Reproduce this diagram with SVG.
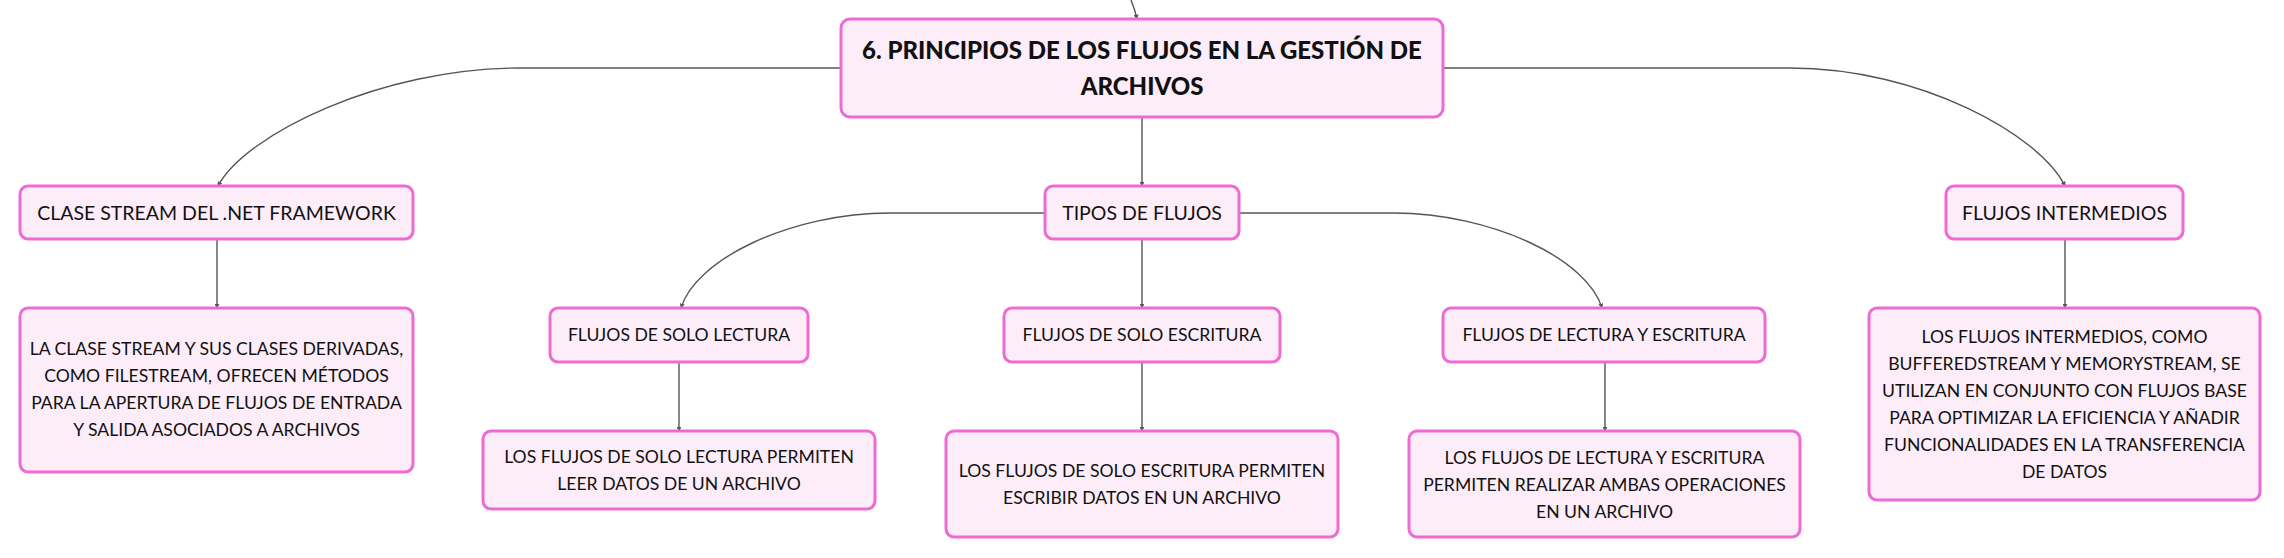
<svg xmlns="http://www.w3.org/2000/svg" width="2284" height="558" viewBox="0 0 2284 558">
<defs>
<style>
.box{fill:#fcedf9;stroke:#ef6bd4;stroke-width:3}
.t{font-family:Lato,"Open Sans","Liberation Sans",sans-serif;fill:#111;text-anchor:middle}
.h{font-size:19.5px}
.b{font-size:17.6px}
.r{font-size:24px;font-weight:900}
.c{fill:none;stroke:#555;stroke-width:1.4}
</style>
<marker id="ar" viewBox="0 0 8 8" refX="7" refY="4" markerWidth="5" markerHeight="5" markerUnits="userSpaceOnUse" orient="auto">
<path d="M0,0 L8,4 L0,8 z" fill="#555"/>
</marker>
</defs>
<rect width="2284" height="558" fill="#fff"/>
<g id="connectors" class="c" marker-end="url(#ar)">
<path d="M1131,0 Q1135,10 1137,19"/>
<path d="M841,68 L520,68 C380,68 245,135 218,186"/>
<path d="M1142,117 V186"/>
<path d="M1443,68 L1790,68 C1920,68 2040,135 2065,186"/>
<path d="M217,239 V308"/>
<path d="M1045,213 L890,213 C790,213 695,260 681,308"/>
<path d="M1142,239 V308"/>
<path d="M1239,213 L1393,213 C1493,213 1588,260 1602,308"/>
<path d="M2065,239 V308"/>
<path d="M679,362 V431"/>
<path d="M1142,362 V431"/>
<path d="M1605,362 V431"/>
</g>
<g id="root">
<rect class="box" x="841" y="19" width="602" height="98" rx="9"/>
<text class="t r" x="1142" y="58.5">6. PRINCIPIOS DE LOS FLUJOS EN LA GESTIÓN DE</text>
<text class="t r" x="1142" y="94.5">ARCHIVOS</text>
</g>
<g id="clase-stream">
<rect class="box" x="20" y="186" width="393" height="53" rx="8"/>
<text class="t h" x="216.5" y="220">CLASE STREAM DEL .NET FRAMEWORK</text>
</g>
<g id="tipos">
<rect class="box" x="1045" y="186" width="194" height="53" rx="8"/>
<text class="t h" x="1142" y="220">TIPOS DE FLUJOS</text>
</g>
<g id="intermedios">
<rect class="box" x="1946" y="186" width="237" height="53" rx="8"/>
<text class="t h" x="2064.5" y="220">FLUJOS INTERMEDIOS</text>
</g>
<g id="clase-desc">
<rect class="box" x="20" y="308" width="393" height="164" rx="8"/>
<text class="t b" x="216.5" y="355">LA CLASE STREAM Y SUS CLASES DERIVADAS,</text>
<text class="t b" x="216.5" y="382">COMO FILESTREAM, OFRECEN MÉTODOS</text>
<text class="t b" x="216.5" y="409">PARA LA APERTURA DE FLUJOS DE ENTRADA</text>
<text class="t b" x="216.5" y="436">Y SALIDA ASOCIADOS A ARCHIVOS</text>
</g>
<g id="solo-lectura">
<rect class="box" x="550" y="308" width="258" height="54" rx="8"/>
<text class="t b" x="679" y="341">FLUJOS DE SOLO LECTURA</text>
</g>
<g id="solo-escritura">
<rect class="box" x="1004" y="308" width="276" height="54" rx="8"/>
<text class="t b" x="1142" y="341">FLUJOS DE SOLO ESCRITURA</text>
</g>
<g id="lectura-escritura">
<rect class="box" x="1443" y="308" width="322" height="54" rx="8"/>
<text class="t b" x="1604" y="341">FLUJOS DE LECTURA Y ESCRITURA</text>
</g>
<g id="intermedios-desc">
<rect class="box" x="1869" y="308" width="391" height="192" rx="8"/>
<text class="t b" x="2064.5" y="343">LOS FLUJOS INTERMEDIOS, COMO</text>
<text class="t b" x="2064.5" y="370">BUFFEREDSTREAM Y MEMORYSTREAM, SE</text>
<text class="t b" x="2064.5" y="397">UTILIZAN EN CONJUNTO CON FLUJOS BASE</text>
<text class="t b" x="2064.5" y="424">PARA OPTIMIZAR LA EFICIENCIA Y AÑADIR</text>
<text class="t b" x="2064.5" y="451">FUNCIONALIDADES EN LA TRANSFERENCIA</text>
<text class="t b" x="2064.5" y="478">DE DATOS</text>
</g>
<g id="solo-lectura-desc">
<rect class="box" x="483" y="431" width="392" height="78" rx="8"/>
<text class="t b" x="679" y="463">LOS FLUJOS DE SOLO LECTURA PERMITEN</text>
<text class="t b" x="679" y="490">LEER DATOS DE UN ARCHIVO</text>
</g>
<g id="solo-escritura-desc">
<rect class="box" x="946" y="431" width="392" height="106" rx="8"/>
<text class="t b" x="1142" y="477">LOS FLUJOS DE SOLO ESCRITURA PERMITEN</text>
<text class="t b" x="1142" y="504">ESCRIBIR DATOS EN UN ARCHIVO</text>
</g>
<g id="lectura-escritura-desc">
<rect class="box" x="1409" y="431" width="391" height="106" rx="8"/>
<text class="t b" x="1604.5" y="464">LOS FLUJOS DE LECTURA Y ESCRITURA</text>
<text class="t b" x="1604.5" y="491">PERMITEN REALIZAR AMBAS OPERACIONES</text>
<text class="t b" x="1604.5" y="518">EN UN ARCHIVO</text>
</g>
</svg>
